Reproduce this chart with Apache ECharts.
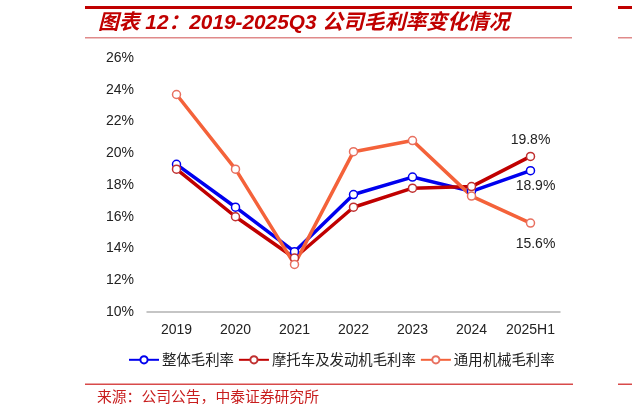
<!DOCTYPE html>
<html>
<head>
<meta charset="utf-8">
<script src="https://cdn.jsdelivr.net/npm/echarts@6/dist/echarts.min.js"></script>
<style>
html,body{margin:0;padding:0;background:#fff;}
#c{width:632px;height:413px;}
</style>
</head>
<body>
<div id="c"></div>
<script>
var categories = ['2019','2020','2021','2022','2023','2024','2025H1'];
var overallMargin = [19.3, 16.6, 13.8, 17.4, 18.5, 17.6, 18.9];
var motoMargin = [19.0, 16.0, 13.4, 16.6, 17.8, 17.9, 19.8];
var generalMargin = [23.7, 19.0, 13.0, 20.1, 20.8, 17.3, 15.6];
var seriesNames = ['整体毛利率', '摩托车及发动机毛利率', '通用机械毛利率'];
var yTicks = [10, 12, 14, 16, 18, 20, 22, 24, 26];

var FONT = '"Liberation Sans", Arial, "Noto Sans CJK SC", sans-serif';
var CJK = '"Noto Sans CJK SC", sans-serif';

function withEndLabel(arr, pos, dist, offset) {
  return arr.map(function (v, i) {
    if (i !== arr.length - 1) return v;
    return {
      value: v,
      label: {
        show: true,
        position: pos,
        distance: dist,
        offset: offset,
        formatter: function (p) { return p.value.toFixed(1) + '%'; },
        color: '#222',
        fontSize: 14,
        fontFamily: FONT
      }
    };
  });
}

var chart = echarts.init(document.getElementById('c'), null, {renderer: 'canvas'});

function mkSeries(name, data, color, borderColor) {
  return {
    name: name,
    type: 'line',
    data: data,
    symbol: 'circle',
    symbolSize: 8,
    lineStyle: {color: color, width: 3.5},
    itemStyle: {color: '#fff', borderColor: borderColor, borderWidth: 1.5},
    emphasis: {disabled: true},
    z: 3,
    animation: false
  };
}

var option = {
  animation: false,
  grid: {left: 147, right: 72, top: 58, bottom: 101},
  legend: {
    bottom: 41,
    left: 123,
    itemWidth: 30,
    itemHeight: 9,
    itemGap: 4,
    textStyle: {fontSize: 14.4, color: '#222', fontFamily: CJK, padding: [0,0,0,-2]},
    data: seriesNames
  },
  xAxis: {
    type: 'category',
    data: categories,
    boundaryGap: true,
    axisLine: {show: true, lineStyle: {color: '#b3b3b3', width: 1.5}},
    axisTick: {show: false},
    axisLabel: {color: '#222', fontSize: 14, fontFamily: FONT, margin: 11, interval: 0}
  },
  yAxis: {
    type: 'value',
    min: yTicks[0],
    max: yTicks[yTicks.length - 1],
    interval: yTicks[1] - yTicks[0],
    axisLine: {show: false},
    axisTick: {show: false},
    splitLine: {show: false},
    axisLabel: {color: '#222', fontSize: 14, fontFamily: FONT, margin: 13, formatter: '{value}%'}
  },
  series: [
    mkSeries(seriesNames[0], withEndLabel(overallMargin, 'bottom', 4, [5, 0]), '#0000ee', '#0000ee'),
    mkSeries(seriesNames[1], withEndLabel(motoMargin, 'top', 5, [0, 0]), '#c00000', '#c03030'),
    mkSeries(seriesNames[2], withEndLabel(generalMargin, 'bottom', 9, [5, 0]), '#f4623a', '#e87060')
  ],
  graphic: [
    {type: 'rect', shape: {x: 85, y: 6, width: 487, height: 3}, style: {fill: '#c00000'}},
    {type: 'rect', shape: {x: 618, y: 6, width: 14, height: 3}, style: {fill: '#c00000'}},
    {type: 'rect', shape: {x: 85, y: 37, width: 487, height: 1.5}, style: {fill: '#e08a8a'}},
    {type: 'rect', shape: {x: 618, y: 37, width: 14, height: 1.5}, style: {fill: '#e08a8a'}},
    {type: 'text', left: 98, top: 13, style: {
      text: '图表 12：2019-2025Q3 公司毛利率变化情况',
      fill: '#c00000',
      font: 'italic bold 20.8px "Liberation Sans", Arial, "Noto Sans CJK SC", sans-serif'
    }},
    {type: 'rect', shape: {x: 85, y: 383.5, width: 488, height: 1.5}, style: {fill: '#d84a4a'}},
    {type: 'rect', shape: {x: 618, y: 383.5, width: 14, height: 1.5}, style: {fill: '#d84a4a'}},
    {type: 'text', left: 97, top: 389, style: {
      text: '来源：公司公告，中泰证券研究所',
      fill: '#c81e1e',
      font: '14.8px "Noto Sans CJK SC", sans-serif'
    }}
  ]
};
chart.setOption(option);
</script>
</body>
</html>
